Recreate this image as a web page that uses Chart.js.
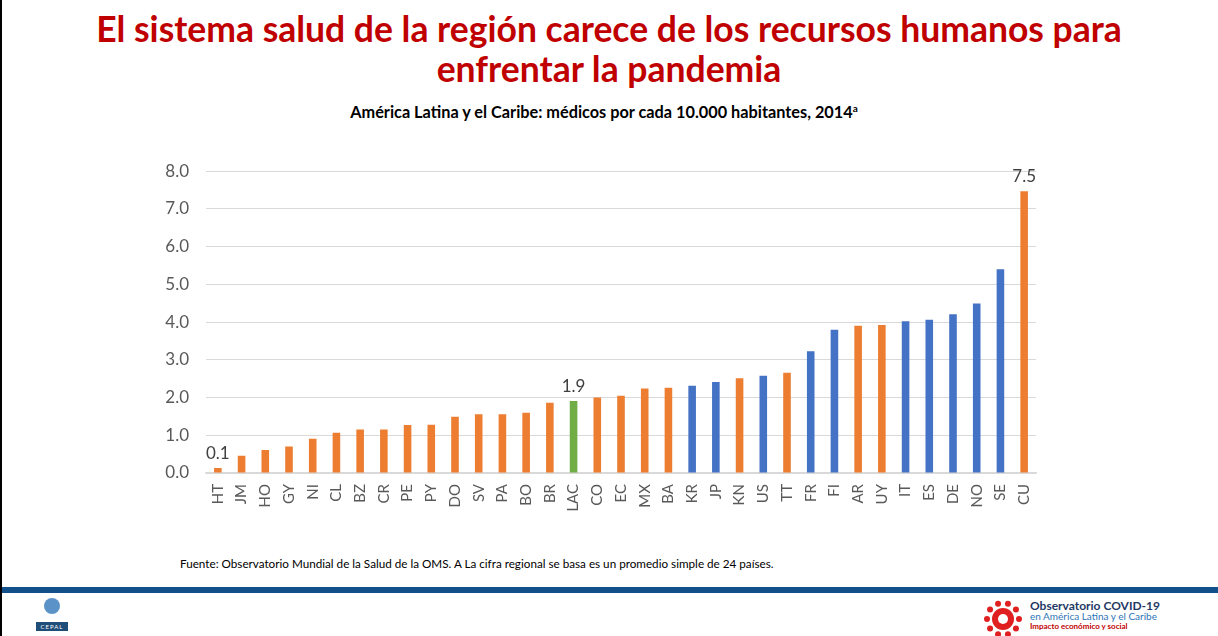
<!DOCTYPE html>
<html lang="es">
<head>
<meta charset="utf-8">
<script src="https://cdn.jsdelivr.net/npm/chart.js@4.4.1/dist/chart.umd.min.js"></script>
<style>
  body { margin: 0; width: 1218px; height: 636px; background: #fff; position: relative; overflow: hidden; font-family: Lato, "Open Sans", sans-serif; }
  #marco { position: absolute; left: 0; top: 0; width: 2px; height: 636px; background: #000; }
  #titulo { position: absolute; left: 0; width: 1218px; top: 9px; text-align: center; color: #c00000; font-weight: bold; font-size: 35.5px; line-height: 40px; }
  #subtitulo { position: absolute; left: 0; width: 1208px; top: 102px; text-align: center; color: #000; font-weight: bold; font-size: 16.3px; }
  #subtitulo sup { font-size: 10px; }
  #grafico { position: absolute; left: 140px; top: 144px; width: 910px; height: 374px; }
  #fuente { position: absolute; left: 180px; top: 556px; font-size: 11.7px; color: #000; }
  #banda { position: absolute; left: 2px; top: 587px; width: 1216px; height: 6px; background: #11508b; }
  #cepal { position: absolute; left: 36px; top: 598px; width: 32px; text-align: center; }
  #cepal .onu { width: 16px; height: 16px; border-radius: 50%; background: #5b92c8; margin: 0 auto; }
  #cepal .txt { margin-top: 8px; background: #1f4e79; color: #fff; font-size: 6px; letter-spacing: 1px; padding: 1px 0; }
  #obs { position: absolute; left: 1030px; top: 601px; line-height: 10px; }
  #obs .a { font-size: 12px; font-weight: bold; color: #1f3864; }
  #obs .b { font-size: 10px; color: #2e75b6; }
  #obs .c { font-size: 8px; font-weight: bold; color: #c00000; }
  #virus { position: absolute; left: 983px; top: 600px; width: 40px; height: 36px; }
</style>
</head>
<body>
<div id="marco"></div>
<div id="titulo">El sistema salud de la región carece de los recursos humanos para<br>enfrentar la pandemia</div>
<div id="subtitulo">América Latina y el Caribe: médicos por cada 10.000 habitantes, 2014<sup>a</sup></div>
<div id="grafico"><canvas id="myChart"></canvas></div>
<div id="fuente">Fuente: Observatorio Mundial de la Salud de la OMS. A La cifra regional se basa es un promedio simple de 24 países.</div>
<div id="banda"></div>
<div id="cepal"><div class="onu"></div><div class="txt">CEPAL</div></div>
<canvas id="virus" width="40" height="36"></canvas>
<div id="obs"><div class="a">Observatorio COVID-19</div><div class="b">en América Latina y el Caribe</div><div class="c">Impacto económico y social</div></div>
<script>
// datos
const paises = ["HT", "JM", "HO", "GY", "NI", "CL", "BZ", "CR", "PE", "PY", "DO", "SV", "PA", "BO", "BR", "LAC",
	"CO", "EC", "MX", "BA", "KR", "JP", "KN", "US", "TT", "FR", "FI", "AR", "UY", "IT", "ES", "DE", "NO", "SE", "CU"];
const medicos = [0.13, 0.46, 0.61, 0.70, 0.91, 1.07, 1.15, 1.15, 1.27, 1.28, 1.49, 1.56, 1.56, 1.60, 1.86, 1.91,
	2.00, 2.05, 2.24, 2.26, 2.31, 2.41, 2.51, 2.58, 2.66, 3.23, 3.80, 3.90, 3.92, 4.02, 4.06, 4.21, 4.49, 5.40, 7.47];
// alc = pais de la region, prom = promedio regional, ocde = otros
const grupo = ["alc", "alc", "alc", "alc", "alc", "alc", "alc", "alc", "alc", "alc", "alc", "alc", "alc", "alc", "alc", "prom",
	"alc", "alc", "alc", "alc", "ocde", "ocde", "alc", "ocde", "alc", "ocde", "ocde", "alc", "alc", "ocde", "ocde", "ocde", "ocde", "ocde", "alc"];
const conEtiqueta = ["HT", "LAC", "CU"];
const ticksY = [0, 1, 2, 3, 4, 5, 6, 7, 8];

const colores = { alc: "#ed7d31", prom: "#70ad47", ocde: "#4472c4" };

const etiquetas = {
	id: "etiquetas",
	afterDatasetsDraw(chart) {
		const ctx = chart.ctx;
		const meta = chart.getDatasetMeta(0);
		ctx.save();
		ctx.font = "17px Lato";
		ctx.fillStyle = "#404040";
		ctx.textAlign = "center";
		ctx.textBaseline = "bottom";
		paises.forEach((p, i) => {
			if (conEtiqueta.includes(p)) {
				const bar = meta.data[i];
				ctx.fillText(medicos[i].toFixed(1), bar.x, bar.y - 6);
			}
		});
		ctx.restore();
	}
};

const ctx1 = document.getElementById("myChart");
let grafico1 = new Chart(ctx1, {
	type: "bar",
	data: {
		labels: paises,
		datasets: [
			{
				data: medicos,
				backgroundColor: grupo.map((g) => colores[g]),
				barPercentage: 0.64,
				categoryPercentage: 0.5,
			},
		],
	},
	options: {
		responsive: true,
		maintainAspectRatio: false,
		animation: false,
		layout: { padding: { top: 15, right: 14, left: 0, bottom: 0 } },
		plugins: { legend: { display: false }, tooltip: { enabled: false } },
		scales: {
			x: {
				grid: { display: false },
				border: { color: "#d9d9d9", width: 1.5 },
				ticks: { color: "#595959", font: { family: "Lato", size: 15 }, minRotation: 90, maxRotation: 90, padding: 3, autoSkip: false },
				afterFit(scale) { scale.height = 45; },
			},
			y: {
				min: 0,
				max: 8,
				afterBuildTicks(scale) { scale.ticks = ticksY.map((v) => ({ value: v })); },
				grid: { color: "#d9d9d9", drawTicks: false },
				border: { display: false },
				ticks: { color: "#595959", font: { family: "Lato", size: 17 }, padding: 17, callback: (v) => v.toFixed(1) },
				afterFit(scale) { scale.width = 66; },
			},
		},
	},
	plugins: [etiquetas],
});

// icono del observatorio
const v = document.getElementById("virus").getContext("2d");
v.fillStyle = "#e02020";
v.beginPath();
v.arc(20, 19, 11, 0, Math.PI * 2);
v.fill();
for (let k = 0; k < 10; k++) {
	const a = k * Math.PI / 5;
	v.beginPath();
	v.arc(20 + Math.cos(a) * 16, 19 + Math.sin(a) * 16, 3, 0, Math.PI * 2);
	v.fill();
	v.fillRect(20 + Math.cos(a) * 8 - 1.5, 19 + Math.sin(a) * 8 - 1.5, 3, 3);
}
v.fillStyle = "#fff";
v.beginPath();
v.arc(20, 19, 5, 0, Math.PI * 2);
v.fill();
</script>
</body>
</html>
